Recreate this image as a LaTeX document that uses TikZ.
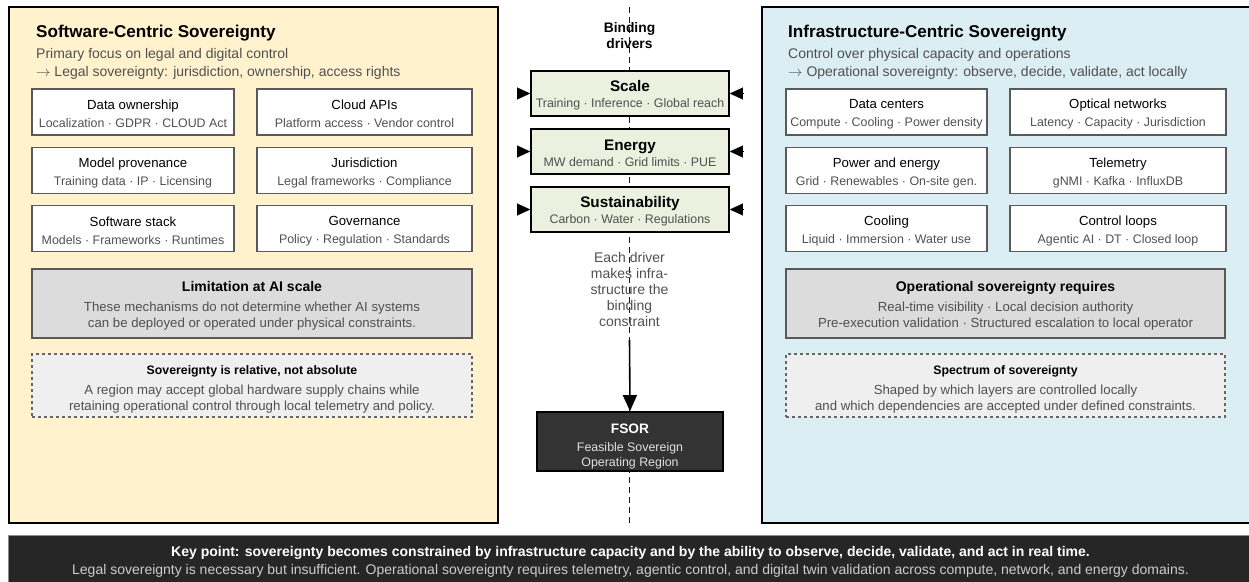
\documentclass[tikz,border=0pt]{standalone}
\usepackage{fontspec}
\setmainfont{Liberation Sans}
\usetikzlibrary{arrows.meta,positioning,calc}

\definecolor{softfill}{HTML}{FFF2CC}
\definecolor{infrafill}{HTML}{DAEEF3}
\definecolor{drvfill}{HTML}{EBF1DE}
\definecolor{notefill}{HTML}{DCDCDC}
\definecolor{dashfill}{HTML}{EFEFEF}
\definecolor{txtgray}{HTML}{505050}
\definecolor{bardark}{HTML}{262626}

\newcommand{\fs}[2]{\fontsize{#1}{#2}\selectfont}
\newcommand{\lift}[1]{\rule{0pt}{#1pt}}% extra room above the first line
\newcommand{\itemtxt}[2]{{\fs{13.2}{18}\color{black}\lift{13.6}#1}\\#2}

\tikzset{
  panel/.style={draw=black, line width=1.8pt},
  itembox/.style={draw=black!65, fill=white, line width=1.1pt, inner sep=0pt, text=txtgray,
    minimum height=46pt, align=center, font=\fs{12.4}{18}},
  notebox/.style={draw=black!65, fill=notefill, line width=1.4pt, inner sep=0pt, text=txtgray,
    minimum width=440pt, minimum height=69pt, align=center, font=\fs{13.2}{16}},
  dashbox/.style={draw=black!60, fill=dashfill, line width=1.1pt, dashed, inner sep=0pt, text=txtgray,
    minimum width=440pt, minimum height=63pt, align=center, font=\fs{13.2}{16}},
  drvbox/.style={draw=black, fill=drvfill, line width=1.8pt, inner sep=0pt, text=txtgray,
    minimum width=198pt, minimum height=45pt, align=center, font=\fs{12.4}{15.5}},
  tri/.style={-{Triangle[length=13pt,width=12pt]}, line width=0.1pt},
}

\begin{document}
\begin{tikzpicture}[x=1pt,y=-1pt]
  \useasboundingbox (0,0) rectangle (1249,581);

  % the two panels
  \draw[panel, fill=softfill] (9,7) rectangle (498,523);
  \draw[panel, fill=infrafill] (762,7) rectangle (1256,523);

  % centre spine
  \draw[line width=1.5pt, black!90, dash pattern=on 6pt off 4pt] (629.5,7) -- (629.5,523);

  % left panel header
  \node[anchor=west, inner sep=0pt, font=\fs{17.1}{20}\bfseries] (swtitle) at (36,33) {Software-Centric Sovereignty};
  \node[anchor=north west, align=left, text=txtgray, font=\fs{14}{18}, inner sep=0pt] (swsub) at (36,48.5)
    {Primary focus on legal and digital control\\$\rightarrow$ Legal sovereignty: jurisdiction, ownership, access rights};

  % left panel items
  \node[itembox, minimum width=202pt] (dataown) at (133,112)   {\itemtxt{Data ownership}{Localization · GDPR · CLOUD Act}};
  \node[itembox, minimum width=215pt] (cloudapi) at (364.5,112) {\itemtxt{Cloud APIs}{Platform access · Vendor control}};
  \node[itembox, minimum width=202pt] (modelprov) at (133,170.5) {\itemtxt{Model provenance}{Training data · IP · Licensing}};
  \node[itembox, minimum width=215pt] (juris) at (364.5,170.5)  {\itemtxt{Jurisdiction}{Legal frameworks · Compliance}};
  \node[itembox, minimum width=202pt] (swstack) at (133,228.5)  {\itemtxt{Software stack}{Models · Frameworks · Runtimes}};
  \node[itembox, minimum width=215pt] (govern) at (364.5,228.5) {\itemtxt{Governance}{Policy · Regulation · Standards}};

  \node[notebox] (limit) at (252,303.5)
    {{\fs{14}{16}\bfseries\color{black}\lift{14.2}Limitation at AI scale}\\[4pt]These mechanisms do not determine whether AI systems\\can be deployed or operated under physical constraints.};
  \node[dashbox] (relative) at (252,385.5)
    {{\fs{12.3}{16}\bfseries\color{black}\lift{17}Sovereignty is relative, not absolute}\\[4pt]A region may accept global hardware supply chains while\\retaining operational control through local telemetry and policy.};

  % right panel header
  \node[anchor=west, inner sep=0pt, font=\fs{17.1}{20}\bfseries] (infratitle) at (788,33) {Infrastructure-Centric Sovereignty};
  \node[anchor=north west, align=left, text=txtgray, font=\fs{14}{18}, inner sep=0pt] (infrasub) at (788,48.5)
    {Control over physical capacity and operations\\$\rightarrow$ Operational sovereignty: observe, decide, validate, act locally};

  % right panel items
  \node[itembox, minimum width=201pt] (dcenter) at (886.5,112)  {\itemtxt{Data centers}{Compute · Cooling · Power density}};
  \node[itembox, minimum width=216pt] (optical) at (1118,112)   {\itemtxt{Optical networks}{Latency · Capacity · Jurisdiction}};
  \node[itembox, minimum width=201pt] (power) at (886.5,170.5)  {\itemtxt{Power and energy}{Grid · Renewables · On-site gen.}};
  \node[itembox, minimum width=216pt] (telem) at (1118,170.5)   {\itemtxt{Telemetry}{gNMI · Kafka · InfluxDB}};
  \node[itembox, minimum width=201pt] (cooling) at (886.5,228.5) {\itemtxt{Cooling}{Liquid · Immersion · Water use}};
  \node[itembox, minimum width=216pt] (ctrlloop) at (1118,228.5) {\itemtxt{Control loops}{Agentic AI · DT · Closed loop}};

  \node[notebox, minimum width=439pt] (opreq) at (1005.5,303.5)
    {{\fs{14}{16}\bfseries\color{black}\lift{14.2}Operational sovereignty requires}\\[4pt]Real-time visibility · Local decision authority\\Pre-execution validation · Structured escalation to local operator};
  \node[dashbox, minimum width=439pt] (spectrum) at (1005.5,385.5)
    {{\fs{12.3}{16}\bfseries\color{black}\lift{17}Spectrum of sovereignty}\\[4pt]Shaped by which layers are controlled locally\\and which dependencies are accepted under defined constraints.};

  % binding drivers
  \node[align=center, font=\fs{13.8}{16}\bfseries] (drvlabel) at (629.5,35.5) {Binding\\drivers};
  \node[drvbox] (scale) at (630,93.5)  {{\fs{15.3}{17}\bfseries\color{black}\lift{14.2}Scale}\\Training · Inference · Global reach};
  \node[drvbox] (energy) at (630,151.5) {{\fs{15.3}{17}\bfseries\color{black}\lift{14.2}Energy}\\MW demand · Grid limits · PUE};
  \node[drvbox] (sust) at (630,209.5)  {{\fs{15.3}{17}\bfseries\color{black}\lift{14.2}Sustainability}\\Carbon · Water · Regulations};
  \foreach \d in {scale,energy,sust} {
    \draw[tri] ($(\d.west)+(-13,0)$) -- (\d.west);
    \draw[tri] ($(\d.east)+(13,0)$) -- (\d.east);
  }

  \node[align=center, text=txtgray, font=\fs{14}{16}] (drvnote) at (629.5,289)
    {Each driver\\makes infra-\\structure the\\binding\\constraint};

  \node[draw=black, fill=black!80, line width=1.8pt, minimum width=186pt, minimum height=59pt, text=black!12,
        inner sep=0pt, align=center, font=\fs{12.4}{15}] (fsor) at (630,441.5)
    {{\fs{13.7}{17}\bfseries\color{white}\lift{20}FSOR}\\[3pt]Feasible Sovereign\\Operating Region};
  \coordinate (arrstart) at (629.5,340);
  \draw[line width=1.6pt, -{Triangle[length=16pt,width=14pt]}] (arrstart) -- (fsor.north);

  % key point bar
  \node[draw=black!45, fill=bardark, minimum width=1245pt, minimum height=48pt, inner sep=0pt, text=black!20,
        align=center, font=\fs{14}{18}] (keybar) at (630.5,559.5)
    {{\bfseries\color{white}\lift{14.2}Key point: sovereignty becomes constrained by infrastructure capacity and by the ability to observe, decide, validate, and act in real time.}\\
     Legal sovereignty is necessary but insufficient. Operational sovereignty requires telemetry, agentic control, and digital twin validation across compute, network, and energy domains.};
\end{tikzpicture}
\end{document}
